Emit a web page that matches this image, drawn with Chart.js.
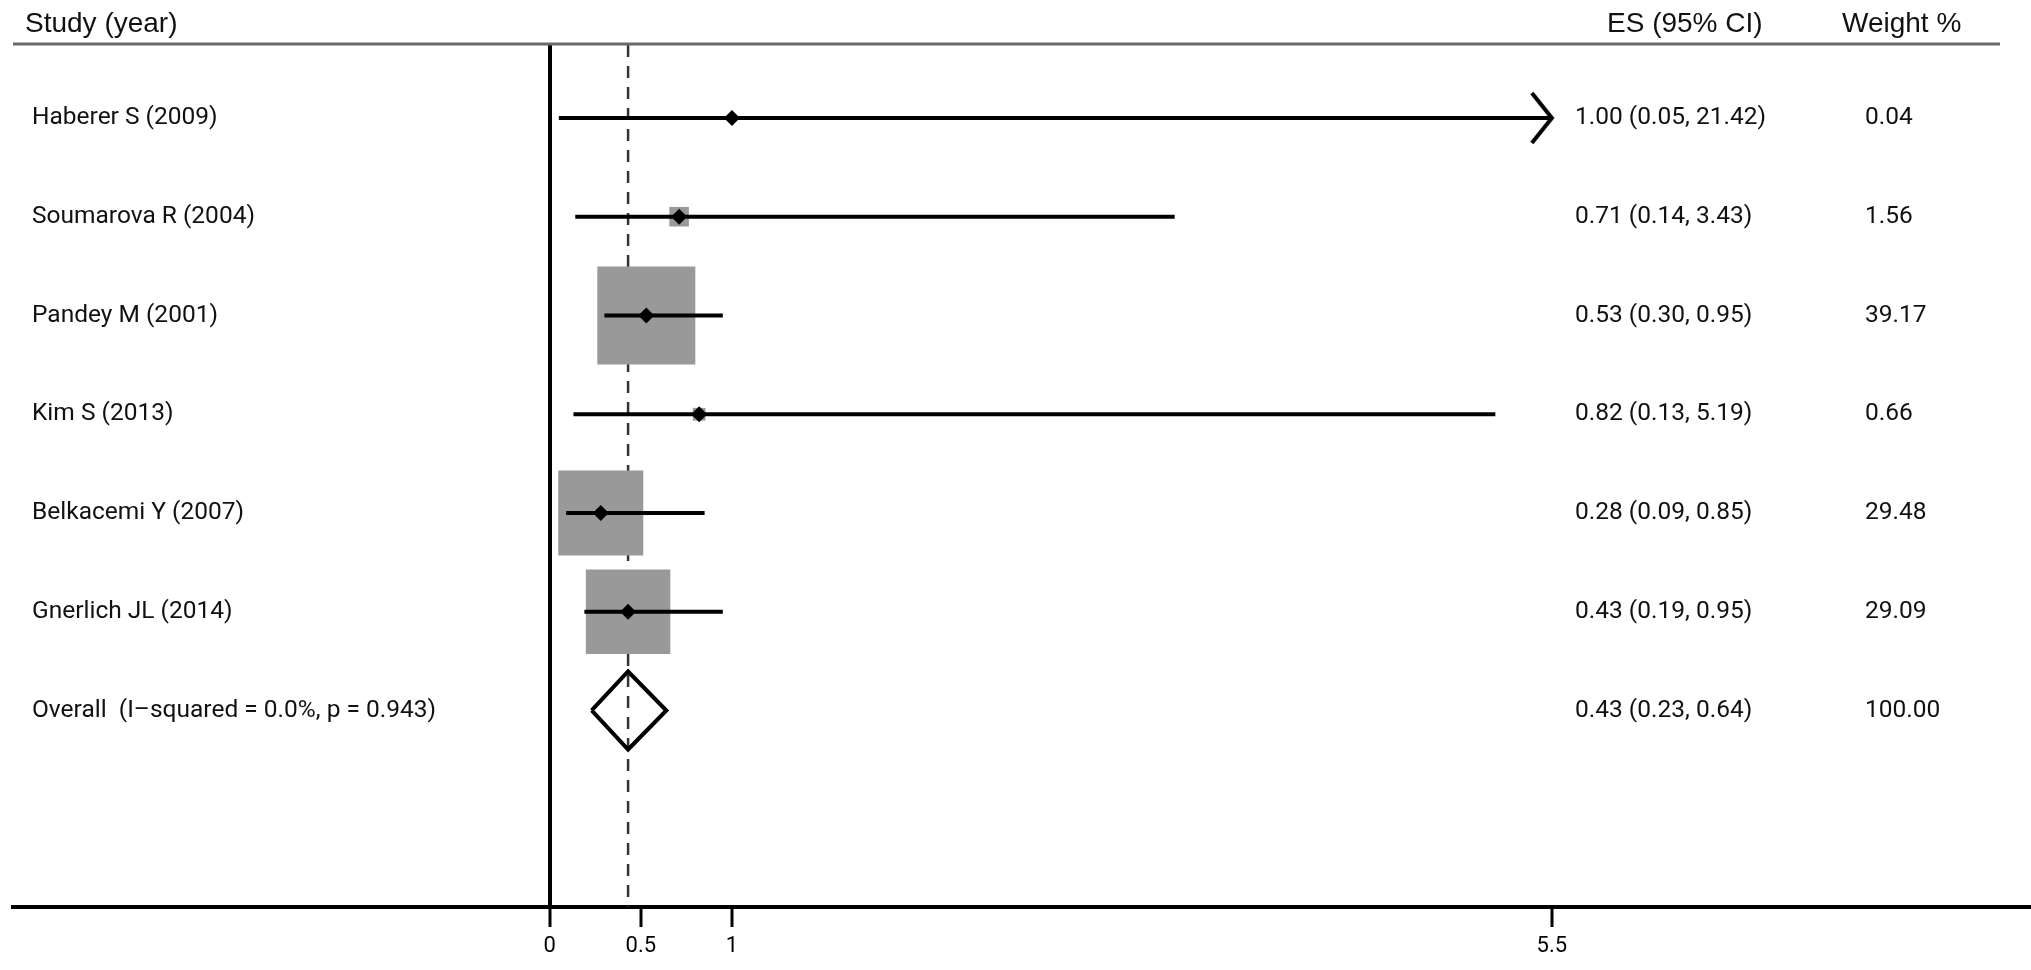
<!DOCTYPE html>
<html>
<head>
<meta charset="utf-8">
<title>Forest plot</title>
<script src="https://cdn.jsdelivr.net/npm/chart.js@4.4.1/dist/chart.umd.min.js"></script>
<style>
  html, body { margin: 0; padding: 0; background: #fff; }
  canvas { display: block; }
</style>
</head>
<body>
<canvas id="forest_plot" width="2031" height="970"></canvas>
<script>
'use strict';

// study data
const studies = ['Haberer S (2009)', 'Soumarova R (2004)', 'Pandey M (2001)',
                 'Kim S (2013)', 'Belkacemi Y (2007)', 'Gnerlich JL (2014)'];
const es      = [1.00, 0.71, 0.53, 0.82, 0.28, 0.43];
const ciLow   = [0.05, 0.14, 0.30, 0.13, 0.09, 0.19];
const ciHigh  = [21.42, 3.43, 0.95, 5.19, 0.85, 0.95];
const weights = [0.04, 1.56, 39.17, 0.66, 29.48, 29.09];

const overallLabel  = 'Overall  (I\u2013squared = 0.0%, p = 0.943)';
const overallES     = 0.43;
const overallLow    = 0.23;
const overallHigh   = 0.64;
const overallWeight = 100.00;

const tickValues = [0, 0.5, 1, 5.5];

// layout
const Y_MIN = 0.261;
const Y_MAX = 8.99;
const BOX_SCALE = 15.66;     // box side in px per sqrt(weight)
const DIAMOND_HALF = 0.395;  // half height of overall diamond, in rows

const axisEnd = tickValues[tickValues.length - 1];
const overallRow = studies.length + 1;
const rowOf = i => i + 1;

function fmt(v) {
    return v.toFixed(2);
}

/**
 * Open arrow head used when a confidence interval runs off the axis
 */
function makeChevron() {
    const c = document.createElement('canvas');
    c.width = 48;
    c.height = 60;
    const g = c.getContext('2d');
    g.strokeStyle = '#000';
    g.lineWidth = 4;
    g.beginPath();
    g.moveTo(4, 5);
    g.lineTo(24, 30);
    g.lineTo(4, 55);
    g.stroke();
    return c;
}

const datasets = [];

// dashed line through the pooled estimate
datasets.push({
    data: [{x: overallES, y: Y_MIN}, {x: overallES, y: Y_MAX}],
    showLine: true,
    borderColor: '#333333',
    borderWidth: 2.5,
    borderDash: [12, 9],
    pointRadius: 0,
    order: 6
});

// weight boxes
datasets.push({
    data: studies.map((s, i) => ({x: es[i], y: rowOf(i)})),
    pointStyle: 'rect',
    pointRadius: weights.map(w => BOX_SCALE * Math.sqrt(w) / Math.SQRT2),
    backgroundColor: '#999999',
    borderWidth: 0,
    order: 5
});

// confidence intervals, clipped at the end of the axis
studies.forEach((s, i) => {
    datasets.push({
        data: [{x: ciLow[i], y: rowOf(i)}, {x: Math.min(ciHigh[i], axisEnd), y: rowOf(i)}],
        showLine: true,
        borderColor: '#000',
        borderWidth: 4,
        borderCapStyle: 'butt',
        pointRadius: 0,
        order: 3
    });
});

// arrow heads for the clipped intervals
datasets.push({
    data: studies.map((s, i) => ({x: axisEnd, y: rowOf(i), hi: ciHigh[i]}))
                 .filter(p => p.hi > axisEnd),
    pointStyle: makeChevron(),
    pointRadius: 3,
    order: 2
});

// pooled estimate diamond
datasets.push({
    data: [
        {x: overallLow, y: overallRow},
        {x: overallES, y: overallRow - DIAMOND_HALF},
        {x: overallHigh, y: overallRow},
        {x: overallES, y: overallRow + DIAMOND_HALF},
        {x: overallLow, y: overallRow}
    ],
    showLine: true,
    borderColor: '#000',
    borderWidth: 4,
    borderJoinStyle: 'miter',
    fill: false,
    pointRadius: 0,
    order: 2
});

// point estimates
datasets.push({
    data: studies.map((s, i) => ({x: es[i], y: rowOf(i)})),
    pointStyle: 'rectRot',
    pointRadius: 8,
    backgroundColor: '#000',
    borderWidth: 0,
    order: 1
});

// text columns and the header rule
const forestText = {
    id: 'forestText',
    afterDraw(chart) {
        const ctx = chart.ctx;
        const yScale = chart.scales.y;
        ctx.save();
        ctx.textBaseline = 'middle';
        ctx.fillStyle = '#111';

        ctx.font = '28px "Liberation Sans"';
        ctx.fillText('Study (year)', 25, 24);
        ctx.fillText('ES (95% CI)', 1607, 24);
        ctx.fillText('Weight %', 1842, 24);

        ctx.strokeStyle = '#6a6a6a';
        ctx.lineWidth = 3;
        ctx.beginPath();
        ctx.moveTo(13, 44);
        ctx.lineTo(2000, 44);
        ctx.stroke();

        ctx.font = '24.5px Roboto';
        studies.forEach((s, i) => {
            const py = yScale.getPixelForValue(rowOf(i));
            ctx.fillText(s, 32, py);
            ctx.fillText(fmt(es[i]) + ' (' + fmt(ciLow[i]) + ', ' + fmt(ciHigh[i]) + ')', 1575, py);
            ctx.fillText(fmt(weights[i]), 1865, py);
        });
        const oy = yScale.getPixelForValue(overallRow);
        ctx.fillText(overallLabel, 32, oy);
        ctx.fillText(fmt(overallES) + ' (' + fmt(overallLow) + ', ' + fmt(overallHigh) + ')', 1575, oy);
        ctx.fillText(fmt(overallWeight), 1865, oy);
        ctx.restore();
    }
};

const forest_plot = new Chart('forest_plot', {
    type: 'scatter',
    data: {datasets: datasets},
    plugins: [forestText],
    options: {
        responsive: false,
        animation: false,
        devicePixelRatio: 1,
        layout: {
            autoPadding: false,
            padding: {left: 13, top: 45, right: 0, bottom: 0}
        },
        plugins: {
            legend: {display: false},
            tooltip: {enabled: false}
        },
        scales: {
            x: {
                type: 'linear',
                min: -2.946,
                max: 8.13,
                afterBuildTicks: scale => {
                    scale.ticks = tickValues.map(v => ({value: v}));
                },
                afterFit: scale => {
                    scale.height = 63;
                },
                border: {display: true, color: '#000', width: 4},
                grid: {
                    drawOnChartArea: true,
                    color: c => (c.tick && c.tick.value === 0) ? '#000' : 'rgba(0,0,0,0)',
                    lineWidth: c => (c.tick && c.tick.value === 0) ? 4 : 0,
                    tickColor: '#000',
                    tickWidth: 3,
                    tickLength: 20
                },
                ticks: {
                    color: '#000',
                    font: {family: 'Roboto', size: 22},
                    padding: 6,
                    maxRotation: 0,
                    autoSkip: false,
                    callback: v => String(v)
                }
            },
            y: {
                type: 'linear',
                reverse: true,
                min: Y_MIN,
                max: Y_MAX,
                display: false
            }
        }
    }
});
</script>
</body>
</html>
